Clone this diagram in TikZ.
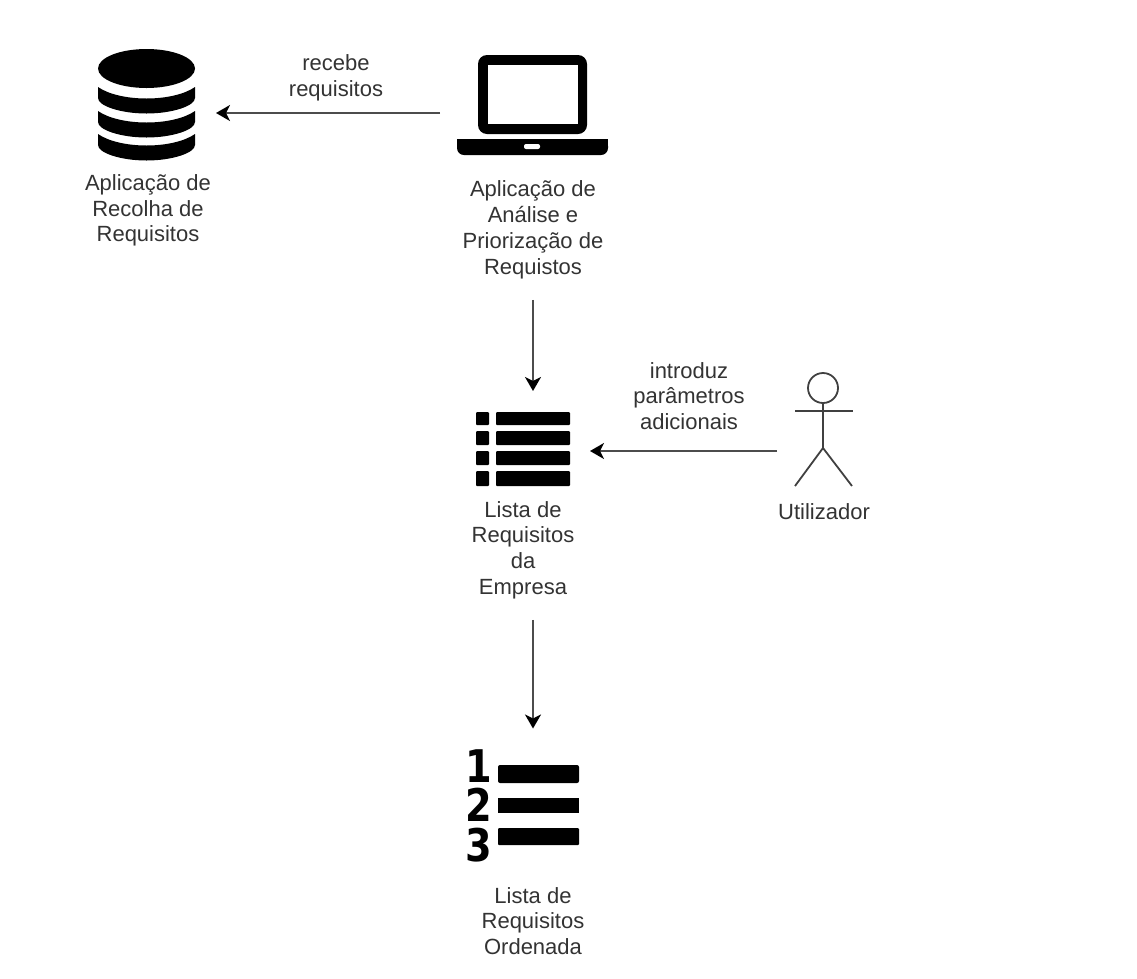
\documentclass[tikz,border=0pt]{standalone}
\usepackage{fontspec}
\setmainfont{Liberation Sans}
\newfontfamily\numerofonte[FakeStretch=0.85]{DejaVu Sans}
\usetikzlibrary{arrows.meta}
\tikzset{
  rotulo/.style = {align=center, inner sep=0pt, outer sep=21pt, font=\fontsize{22}{25.8}\selectfont, text=black!80},
  icone/.style = {inner sep=0pt, outer sep=20pt},
  seta/.style = {line width=2pt, draw=black!70, -{Stealth[length=14pt,width=16pt,inset=4pt,black]}},
  boneco/.style = {line width=1.8pt, draw=black!75},
  numero/.style = {align=center, inner sep=0pt, font=\fontsize{45}{39.5}\numerofonte\bfseries}
}
\begin{document}
\begin{tikzpicture}[x=1pt,y=-1pt]
\useasboundingbox (0,0) rectangle (1137,978);
% base de dados
\node [icone, minimum width=97pt, minimum height=100pt, outer sep=21pt] (recolha) at (146.5,113) {};
\fill (146.5,68.5) ellipse [x radius=48.5, y radius=19.5];
\foreach \d in {0,24,47}
  \fill (98,87+\d) .. controls (108,94+\d) and (126,98.5+\d) .. (146.5,98.5+\d)
    .. controls (167,98.5+\d) and (185,94+\d) .. (195,87+\d) -- (195,98+\d)
    .. controls (195,106+\d) and (172,113.5+\d) .. (146.5,113.5+\d)
    .. controls (121,113.5+\d) and (98,106+\d) .. (98,98+\d) -- cycle;
\node [rotulo] (recolhatexto) at (148,210.5) {Aplicação de\\Recolha de\\Requisitos};
% portatil
\node [icone, minimum width=150pt, minimum height=100pt, outer sep=18pt] (portatil) at (533,113) {};
\fill [rounded corners=9pt] (478,55) rectangle (587,134);
\fill [white] (488,65) rectangle (578,124);
\fill [rounded corners=7pt] (457,139) -- (608,139) -- (608,155) -- (457,155) -- cycle;
\fill (457,139) rectangle (608,147);
\fill [white, rounded corners=2pt] (524,144) rectangle (540,149);
\node [rotulo] (portatiltexto) at (533,230) {Aplicação de\\Análise e\\Priorização de\\Requistos};
\node [rotulo, outer sep=0pt] (recebe) at (336,78) {recebe\\requisitos};
% lista
\node [icone, minimum width=94pt, minimum height=80pt] (lista) at (523,451) {};
\foreach \a/\b in {412/425,431/445,451/465,471/486} {
  \fill [rounded corners=1pt] (476,\a) rectangle (489,\b);
  \fill [rounded corners=1pt] (496,\a) rectangle (570,\b);
}
\node [rotulo] (listatexto) at (523,550) {Lista de\\Requisitos\\da\\Empresa};
% utilizador
\node [icone, minimum width=58pt, minimum height=113pt, outer sep=18pt] (utilizador) at (824,430) {};
\draw [boneco] (823,388) circle (15);
\draw [boneco] (795,411) -- (853,411);
\draw [boneco] (823,403) -- (823,448);
\draw [boneco] (795,486) -- (823,448) -- (852,486);
\node [rotulo, outer sep=0pt] (utilizadortexto) at (824,512) {Utilizador};
\node [rotulo, outer sep=0pt] (introduz) at (689,396) {introduz\\parâmetros\\adicionais};
% lista ordenada
\node [icone, minimum width=120pt, minimum height=113pt] (ordenada) at (533,805) {};
\node [numero] (numeros) at (479,805.5) {1\\2\\3};
\fill [rounded corners=2pt] (498,765) rectangle (579,783);
\fill (498,798) rectangle (579,813);
\fill [rounded corners=1pt] (498,828) rectangle (579,845);
\node [rotulo, outer sep=0pt] (ordenadatexto) at (533,921) {Lista de\\Requisitos\\Ordenada};
% setas
\draw [seta] (portatil) -- (recolha);
\draw [seta] (portatiltexto.south) -- (portatiltexto.south |- lista.north);
\draw [seta] (utilizador.west |- lista.east) -- (lista.east);
\draw [seta] (portatiltexto.south |- listatexto.south) -- (ordenada.north);
\end{tikzpicture}
\end{document}
